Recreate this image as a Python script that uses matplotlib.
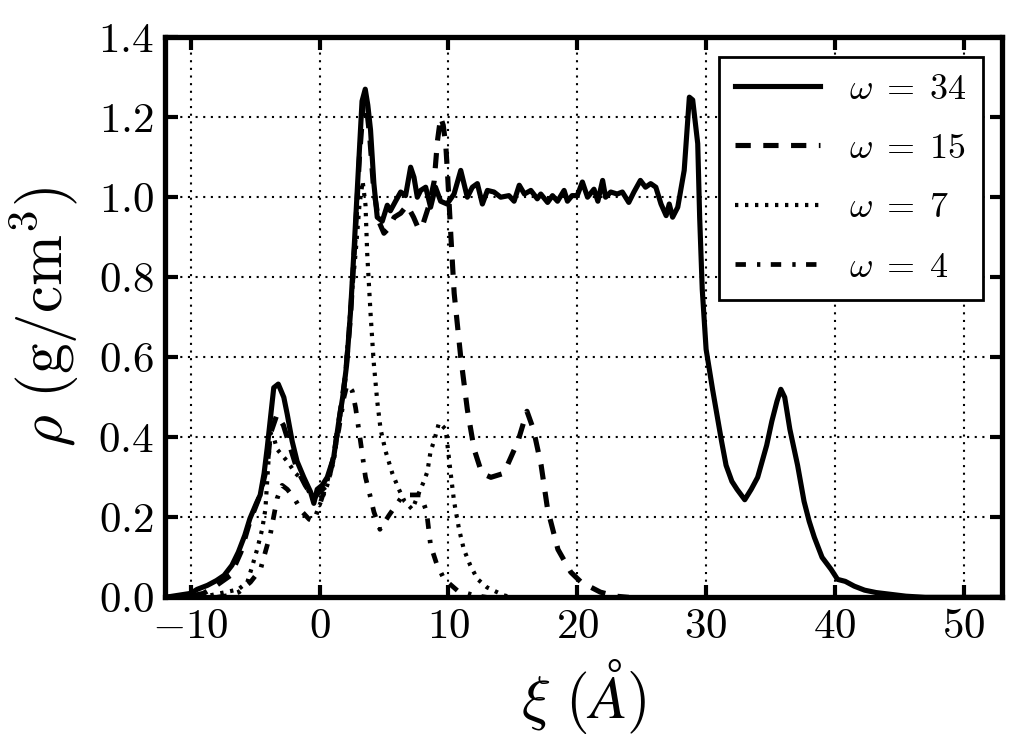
import matplotlib
matplotlib.use("Agg")
import matplotlib.pyplot as plt
from matplotlib.ticker import FormatStrFormatter, MultipleLocator

###data: xi in Angstrom, rho in g/cm3
x34 = [-12, -11, -10, -9.5, -8.7, -8.0, -7.4, -6.8, -6.3, -5.8, -5.4, -4.9, -4.6, -4.3, -4.06, -3.8, -3.55, -3.2,
       -2.77, -2.5, -2.12, -1.74, -1.22, -0.7, -0.44, -0.18, 0.2, 0.6, 1.1, 1.5, 1.8, 2.1, 2.4, 2.7, 3.0, 3.3, 3.55,
       3.75, 3.96, 4.22, 4.48, 4.87, 5.26, 5.5, 5.9, 6.3, 6.68, 7.07, 7.33, 7.59, 7.85, 8.24, 8.62, 9.0, 9.4, 9.9,
       10.44, 10.96, 11.47, 11.86, 12.25, 12.64, 13.03, 13.54, 14.06, 14.7, 15.1, 15.5, 15.9, 16.4, 16.9, 17.17,
       17.7, 18.08, 18.47, 18.98, 19.24, 19.6, 20.0, 20.4, 20.8, 21.3, 21.6, 21.97, 22.2, 22.6, 23.1, 23.5, 24.0,
       24.4, 24.9, 25.3, 25.7, 26.1, 26.5, 26.9, 27.14, 27.4, 27.8, 28.3, 28.7, 28.96, 29.35, 29.5, 29.7, 30.0,
       30.5, 31.2, 31.55, 32.0, 32.4, 33.0, 33.5, 34.0, 34.7, 35.1, 35.5, 35.8, 36.1, 36.5, 37.1, 37.6, 38.0, 38.4,
       39.0, 39.7, 40.2, 40.8, 41.5, 42.3, 43.2, 44.2, 45.5, 47, 53]
y34 = [0.0, 0.005, 0.01, 0.02, 0.03, 0.042, 0.055, 0.08, 0.113, 0.155, 0.197, 0.235, 0.256, 0.31, 0.373, 0.45, 0.524,
       0.533, 0.5, 0.457, 0.39, 0.34, 0.30, 0.264, 0.235, 0.27, 0.28, 0.30, 0.35, 0.44, 0.5, 0.58, 0.71, 0.88, 1.06,
       1.24, 1.27, 1.23, 1.168, 1.034, 0.95, 0.94, 0.98, 0.966, 0.99, 1.013, 1.004, 1.075, 1.05, 1.0, 1.017, 1.025,
       0.975, 1.025, 0.99, 0.983, 1.008, 1.067, 1.0, 1.025, 1.034, 0.983, 1.017, 1.013, 1.0, 1.004, 0.99, 1.03,
       1.008, 1.017, 0.996, 1.008, 0.987, 1.004, 0.99, 1.017, 0.99, 1.004, 1.004, 1.038, 1.0, 1.02, 0.99, 1.042,
       1.0, 1.013, 1.008, 1.013, 0.987, 1.013, 1.042, 1.025, 1.034, 1.025, 0.983, 0.954, 0.983, 0.95, 0.975, 1.067,
       1.25, 1.243, 1.134, 0.95, 0.77, 0.62, 0.52, 0.39, 0.33, 0.29, 0.27, 0.244, 0.27, 0.30, 0.38, 0.44, 0.49,
       0.52, 0.50, 0.42, 0.33, 0.24, 0.19, 0.15, 0.10, 0.07, 0.045, 0.04, 0.028, 0.018, 0.012, 0.008, 0.003, 0.0, 0.0]

x15 = [-12, -10, -9, -8, -6.9, -6.1, -5.4, -4.6, -4.06, -3.8, -3.3, -2.8, -2.25, -1.74, -1.1, -0.44, 0.0, 0.6, 1.1,
       1.5, 2.0, 2.4, 2.8, 3.1, 3.4, 3.6, 3.9, 4.2, 4.6, 5.0, 5.3, 5.8, 6.3, 6.8, 7.3, 7.7, 8.0, 8.5, 8.9, 9.15, 9.4,
       9.6, 9.8, 9.95, 10.2, 10.45, 10.96, 11.47, 12.0, 12.6, 13.3, 14.3, 15.4, 16.1, 16.6, 17.2, 17.7, 18.5, 19.5,
       20.3, 21.8, 23, 24]
y15 = [0.0, 0.003, 0.01, 0.03, 0.055, 0.113, 0.19, 0.256, 0.33, 0.41, 0.457, 0.43, 0.373, 0.32, 0.28, 0.247, 0.264,
       0.28, 0.35, 0.44, 0.55, 0.7, 0.92, 1.1, 1.23, 1.24, 1.15, 1.02, 0.94, 0.91, 0.92, 0.95, 0.96, 0.98, 0.95, 0.92,
       0.93, 0.98, 1.04, 1.14, 1.2, 1.18, 1.13, 1.05, 0.9, 0.76, 0.6, 0.47, 0.37, 0.31, 0.30, 0.31, 0.39, 0.465, 0.42,
       0.33, 0.22, 0.12, 0.063, 0.038, 0.013, 0.003, 0.0]

x7 = [-10, -8.5, -7, -6.3, -5.6, -5.2, -4.84, -4.45, -4.2, -4.06, -3.94, -3.8, -3.6, -3.29, -2.5, -1.86, -1.22, -0.57,
      0.0, 0.6, 1.1, 1.5, 1.9, 2.4, 2.8, 3.1, 3.35, 3.57, 3.7, 3.96, 4.2, 4.48, 4.74, 5.13, 5.65, 6.16, 6.6, 7.2, 7.7,
      8.1, 8.37, 8.62, 8.88, 9.27, 9.5, 9.79, 10.18, 10.44, 10.83, 11.2, 11.7, 12.25, 13.0, 14.3, 15]
y7 = [0.0, 0.005, 0.015, 0.02, 0.038, 0.08, 0.12, 0.17, 0.22, 0.29, 0.35, 0.41, 0.405, 0.37, 0.34, 0.31, 0.29, 0.247,
      0.23, 0.28, 0.34, 0.43, 0.52, 0.72, 0.86, 0.98, 1.04, 0.98, 0.86, 0.71, 0.59, 0.49, 0.42, 0.365, 0.31, 0.27,
      0.24, 0.22, 0.26, 0.29, 0.314, 0.365, 0.39, 0.436, 0.43, 0.42, 0.31, 0.24, 0.17, 0.12, 0.08, 0.046, 0.025,
      0.005, 0.0]

x4 = [-8, -7, -6.27, -5.36, -4.58, -3.8, -3.29, -2.9, -2.5, -2.0, -1.35, -0.8, -0.44, 0.0, 0.5, 1.0, 1.5, 1.9, 2.15,
      2.54, 2.8, 3.18, 3.57, 3.91, 4.22, 4.69, 5.39, 6.3, 7.0, 7.85, 8.31, 8.62, 9.09, 9.66, 10.7, 12.0, 13]
y4 = [0.0, 0.005, 0.013, 0.038, 0.07, 0.16, 0.247, 0.28, 0.27, 0.25, 0.214, 0.195, 0.19, 0.23, 0.28, 0.34, 0.42, 0.5,
      0.533, 0.516, 0.474, 0.39, 0.30, 0.256, 0.214, 0.17, 0.205, 0.247, 0.256, 0.256, 0.214, 0.13, 0.084, 0.046,
      0.017, 0.005, 0.0]

labels = [r"$\omega\;=\;34$", r"$\omega\;=\;15$", r"$\omega\;=\;7$", r"$\omega\;=\;4$"]

plt.rcParams["font.family"] = "serif"
plt.rcParams["font.serif"] = ["cmr10"]
plt.rcParams["mathtext.fontset"] = "cm"
plt.rcParams["axes.formatter.use_mathtext"] = True
plt.rcParams["axes.unicode_minus"] = True
plt.rcParams["lines.scale_dashes"] = False

fig = plt.figure(figsize=(10.24, 7.43), dpi=100)
ax = fig.add_axes([0.161, 0.196, 0.818, 0.754])

ax.plot(x34, y34, color="black", lw=3.7, ls="-", label=labels[0])
ax.plot(x15, y15, color="black", lw=3.7, ls=(0, (11, 9)), label=labels[1])
ax.plot(x7, y7, color="black", lw=3.0, ls=(0, (2.4, 4.8)), label=labels[2])
ax.plot(x4, y4, color="black", lw=3.4, ls=(0, (7.5, 8, 2.4, 7.5)), label=labels[3])

ax.set_xlim(-12, 53)
ax.set_ylim(0, 1.4)
ax.xaxis.set_major_locator(MultipleLocator(10))
ax.yaxis.set_major_locator(MultipleLocator(0.2))
ax.yaxis.set_major_formatter(FormatStrFormatter(r"$%.1f$"))
ax.xaxis.set_major_formatter(FormatStrFormatter(r"$%d$"))

ax.grid(True, color="black", ls=(0, (1.5, 4)), lw=1.5)
ax.tick_params(direction="in", length=9, width=3, top=True, right=True, labelsize=31, pad=8)
for sp in ax.spines.values():
    sp.set_linewidth(3.8)

ax.set_xlabel(r"$\xi\ (\AA)$", fontsize=44, labelpad=8)
ax.set_ylabel(r"$\rho\ (\mathrm{g/cm^3})$", fontsize=44, labelpad=12)

leg = ax.legend(loc="upper right", fontsize=26, handlelength=2.35, fancybox=False, framealpha=1,
                edgecolor="black", borderaxespad=0.55, labelspacing=0.75, handletextpad=0.8,
                borderpad=0.45)
leg.get_frame().set_linewidth(2)

fig.savefig("out.png", dpi=100)
